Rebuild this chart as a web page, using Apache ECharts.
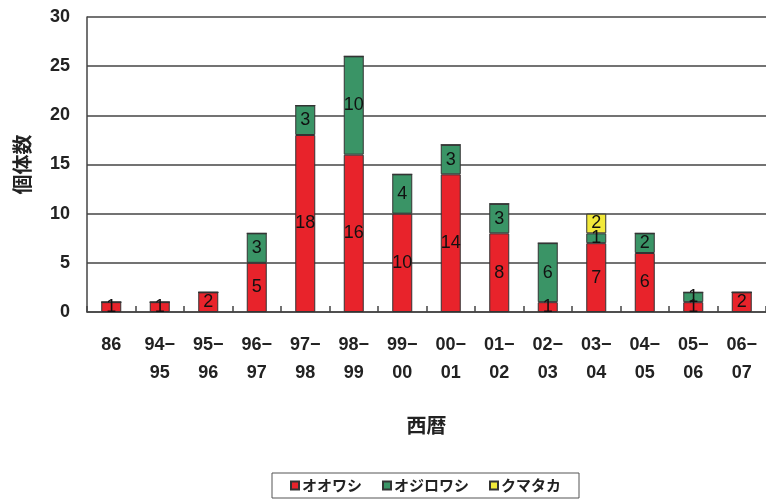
<!DOCTYPE html>
<html>
<head>
<meta charset="utf-8">
<script src="https://cdn.jsdelivr.net/npm/echarts@6/dist/echarts.min.js"></script>
<style>
  html, body { margin: 0; padding: 0; background: #fff; }
  #chart { width: 766px; height: 501px; }
</style>
</head>
<body>
<div id="chart"></div>
<script>
// Seasons (x axis)
const seasons = ['86', '94−\n95', '95−\n96', '96−\n97', '97−\n98', '98−\n99', '99−\n00',
  '00−\n01', '01−\n02', '02−\n03', '03−\n04', '04−\n05', '05−\n06', '06−\n07'];

// Individuals per species
const oowashi    = [1, 1, 2, 5, 18, 16, 10, 14, 8, 1, 7, 6, 1, 2];
const ojirowashi = [0, 0, 0, 3, 3, 10, 4, 3, 3, 6, 1, 2, 1, 0];
const kumataka   = [0, 0, 0, 0, 0, 0, 0, 0, 0, 0, 2, 0, 0, 0];

const seriesNames = ['オオワシ', 'オジロワシ', 'クマタカ'];
const yTicks = { min: 0, max: 30, interval: 5 };

const numFont = '"Liberation Sans", Arial, sans-serif';
const jpFont = '"Noto Sans CJK JP", sans-serif';

const segLabel = {
  show: true,
  position: 'inside',
  color: '#111',
  fontSize: 18,
  fontFamily: numFont,
  formatter: p => (p.value ? String(p.value) : '')
};

function barSeries(name, data, color) {
  return {
    name: name,
    type: 'bar',
    stack: 'total',
    data: data,
    barWidth: 20,
    itemStyle: { color: color, borderColor: '#333', borderWidth: 1 },
    label: segLabel,
    emphasis: { disabled: true }
  };
}

const chart = echarts.init(document.getElementById('chart'), null, { renderer: 'canvas' });
chart.setOption({
  animation: false,
  backgroundColor: '#fff',
  grid: { left: 87, top: 17, width: 683, height: 295, containLabel: false },
  xAxis: {
    type: 'category',
    data: seasons,
    name: '西暦',
    nameLocation: 'middle',
    nameGap: 103,
    nameTextStyle: { fontFamily: jpFont, fontSize: 20, fontWeight: 'bold', color: '#222' },
    axisLine: { lineStyle: { color: '#444', width: 1.5 } },
    axisTick: { show: true, inside: true, length: 6, lineStyle: { color: '#444', width: 1.5 } },
    axisLabel: {
      color: '#222',
      fontSize: 18,
      fontWeight: 'bold',
      fontFamily: numFont,
      lineHeight: 28,
      margin: 19,
      verticalAlign: 'top',
      interval: 0
    }
  },
  yAxis: {
    type: 'value',
    min: yTicks.min,
    max: yTicks.max,
    interval: yTicks.interval,
    name: '個体数',
    nameLocation: 'middle',
    nameGap: 55,
    nameRotate: 90,
    nameTextStyle: { fontFamily: jpFont, fontSize: 20, fontWeight: 'bold', color: '#222' },
    axisLine: { show: true, lineStyle: { color: '#444', width: 1.5 } },
    axisTick: { show: false },
    axisLabel: { color: '#222', fontSize: 18, fontFamily: numFont, fontWeight: 'bold', margin: 17 },
    splitLine: { lineStyle: { color: '#444', width: 1.5 } }
  },
  legend: {
    left: 272,
    top: 473,
    width: 310,
    padding: [5, 18, 5, 18],
    borderColor: '#555',
    borderWidth: 1,
    itemGap: 20,
    itemWidth: 8,
    itemHeight: 8,
    icon: 'rect',
    data: seriesNames,
    textStyle: { fontFamily: jpFont, fontSize: 15, fontWeight: 'bold', color: '#222', padding: [0, 0, 0, -2] }
  },
  series: [
    barSeries(seriesNames[0], oowashi, '#e8232b'),
    barSeries(seriesNames[1], ojirowashi, '#3a9466'),
    barSeries(seriesNames[2], kumataka, '#f2e93a')
  ]
});
</script>
</body>
</html>
